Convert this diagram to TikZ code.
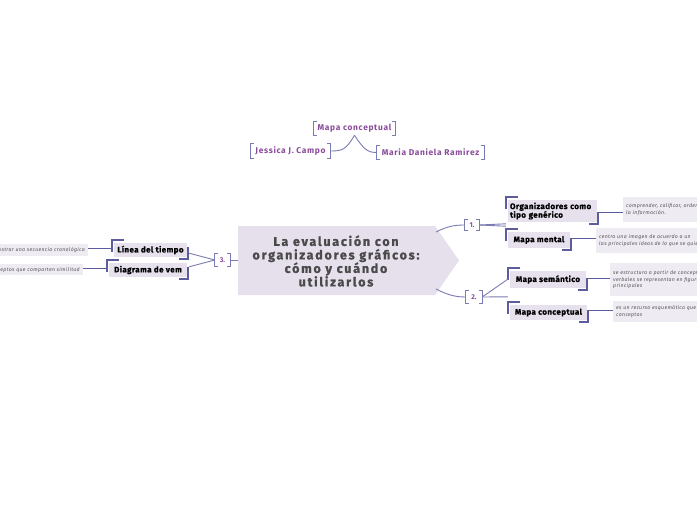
\documentclass[tikz,border=0pt]{standalone}
\usepackage{fontspec}
\setmainfont{Fira Sans}
\newfontfamily\cenfont[LetterSpace=14,BoldFeatures={FakeBold=1.3}]{Fira Sans}
\newfontfamily\labfont[LetterSpace=5,BoldFeatures={FakeBold=1}]{Fira Sans}
\newfontfamily\perfont[LetterSpace=8]{Fira Sans}
\newfontfamily\notefont[LetterSpace=6]{Fira Sans}
\definecolor{brk}{HTML}{5D5D9E}
\definecolor{lnk}{HTML}{7B7BB3}
\definecolor{boxf}{HTML}{E7E1EE}
\definecolor{notef}{HTML}{EFEBF3}
\definecolor{cenf}{HTML}{E6DFEC}
\definecolor{cent}{HTML}{4A4A4A}
\definecolor{purp}{HTML}{8A4B9B}
\definecolor{notet}{HTML}{555555}
\newcommand{\boxbr}[1]{%
  \draw[bk] ([shift={(-1.5,9)}]#1.north west) |- ([shift={(10,-2.5)}]#1.north west);
  \draw[bk] ([shift={(-8,2)}]#1.south east) -| ([shift={(1,-10)}]#1.south east);}
\newcommand{\sqbr}[1]{%
  \draw[sq] ([xshift=3pt]#1.north west) -- (#1.north west) -- (#1.south west) -- ([xshift=3pt]#1.south west);
  \draw[sq] ([xshift=-3pt]#1.north east) -- (#1.north east) -- (#1.south east) -- ([xshift=-3pt]#1.south east);}
\begin{document}
\begin{tikzpicture}[x=1pt,y=-1pt,
  bk/.style={draw=brk,line width=1.8pt},
  sq/.style={draw=lnk,line width=1pt},
  lk/.style={draw=lnk,line width=0.9pt},
  cl/.style={draw=brk,line width=1pt},
  topic/.style={rectangle,fill=boxf,inner sep=0pt,font=\labfont\bfseries\fontsize{8}{8.6}\selectfont,text=black},
  note/.style={rectangle,fill=notef,inner sep=0pt,font=\notefont\itshape\fontsize{5.2}{10}\selectfont,text=notet,align=left},
  num/.style={rectangle,inner sep=0pt,font=\bfseries\fontsize{7}{8}\selectfont,text=purp},
  person/.style={rectangle,inner sep=0pt,font=\perfont\bfseries\fontsize{8.4}{9}\selectfont,text=purp}]
\useasboundingbox (0,0) rectangle (697,520);
\clip (0,0) rectangle (697,520);
\fill[white] (0,0) rectangle (697,520);
% central
\fill[cenf] (238,226) -- (435,226) -- (459,260.5) -- (435,295) -- (238,295) -- cycle;
\node[font=\cenfont\bfseries\fontsize{12.5}{13.5}\selectfont,text=cent,align=center,inner sep=0pt] (cen) at (336,261)
  {La evaluación con\\organizadores gráficos:\\cómo y cuándo\\utilizarlos};
\coordinate (c1) at (436,232);
\coordinate (c2) at (436,289);
\coordinate (c3) at (238,260);
% top
\node[person,minimum width=81,minimum height=13] (mct) at (354.5,128.5) {Mapa conceptual};
\node[person,minimum width=79,minimum height=14] (jes) at (290.5,151) {Jessica J.\ Campo};
\node[person,minimum width=107,minimum height=13] (mar) at (430.5,152.5) {Maria Daniela Ramirez};
\sqbr{mct}\sqbr{jes}\sqbr{mar}
\draw[lk] (mct.south) .. controls (346,150) and (342,151) .. (jes.east);
\draw[lk] (mct.south) .. controls (364,150) and (368,152.5) .. (mar.west);
% numbered brackets
\node[num,minimum width=14,minimum height=11] (b1) at (472,225) {1.};
\node[num,minimum width=16,minimum height=12] (b2) at (474,297) {2.};
\node[num,minimum width=15,minimum height=12] (b3) at (222.5,260) {3.};
\sqbr{b1}\sqbr{b2}\sqbr{b3}
\draw[lk] (c1) .. controls (448,226) and (455,225) .. (b1.west);
\draw[lk] (c2) .. controls (448,295) and (455,297) .. (b2.west);
\draw[lk] (c3) -- (b3.east);
% topics right
\node[topic,minimum width=89,minimum height=22,text width=85,align=left] (org) at (552.5,211) {Organizadores como\\tipo genérico};
\node[topic,minimum width=62,minimum height=16] (mm) at (539,240) {Mapa mental};
\node[topic,minimum width=76,minimum height=17] (ms) at (548,279.5) {Mapa semántico};
\node[topic,minimum width=77,minimum height=15] (mc) at (548.5,312.5) {Mapa conceptual};
% topics left
\node[topic,minimum width=73,minimum height=14] (lt) at (150.5,250) {Línea del tiempo};
\node[topic,minimum width=78,minimum height=14] (dv) at (148,270) {Diagrama de vem};
\boxbr{org}\boxbr{mm}\boxbr{ms}\boxbr{mc}\boxbr{lt}\boxbr{dv}
\draw[lk] (b1.east) -- ([shift={(-2,4)}]org.south west);
\draw[lk] (b1.east) -- ([shift={(-2,-8)}]mm.north west);
\draw[lk] (b2.east) -- ([shift={(-2,-9)}]ms.south west);
\draw[lk] (b2.east) -- ([shift={(-2,-8)}]mc.north west);
\draw[lk] (b3.west) -- ([shift={(2,-4)}]lt.south east);
\draw[lk] (b3.west) -- ([shift={(2,4)}]dv.north east);
% notes
\node[note,anchor=north west,minimum width=150,minimum height=25,text width=150] (n1) at (623,197)
  {\hspace*{3pt}comprender, calificar, ordenar\\[-3.5pt]\hspace*{3pt}la información.};
\node[note,anchor=north west,minimum width=150,minimum height=25,text width=150] (n2) at (596,228)
  {\hspace*{3pt}centra una imagen de acuerdo a un\\[-3.5pt]\hspace*{3pt}las principales ideas de lo que se quiere};
\node[note,anchor=north west,minimum width=150,minimum height=33,text width=150] (n3) at (610,263)
  {\hspace*{3pt}se estructura a partir de conceptos\\[-3.5pt]\hspace*{3pt}verbales se representan en figuras\\[-3.5pt]\hspace*{3pt}principales};
\node[note,anchor=north west,minimum width=150,minimum height=21,text width=150] (n4) at (613,301)
  {\hspace*{3pt}es un recurso esquemático que\\[-3.5pt]\hspace*{3pt}conceptos};
\node[note,anchor=north east,minimum width=130,minimum height=12,text width=130,align=right] (nl) at (88,244)
  {mostrar una secuencia cronológica\hspace*{3pt}};
\node[note,anchor=north east,minimum width=130,minimum height=11,text width=130,align=right] (nd) at (83,264)
  {conceptos que comparten similitud\hspace*{3pt}};
% topic to note connectors
\coordinate (o1) at ([shift={(1,-10)}]org.south east);
\coordinate (o2) at ([shift={(1,-10)}]mm.south east);
\coordinate (o3) at ([shift={(1,-10)}]ms.south east);
\coordinate (o4) at ([shift={(1,-10)}]mc.south east);
\draw[cl] (o1) -- (o1 -| n1.west);
\draw[cl] (o2) -- (o2 -| n2.west);
\draw[cl] (o3) -- (o3 -| n3.west);
\draw[cl] (o4) -- (o4 -| n4.west);
\coordinate (p1) at ([shift={(-1.5,6)}]lt.north west);
\coordinate (p2) at ([shift={(-1.5,6)}]dv.north west);
\draw[cl] (nl.east |- p1) -- (p1);
\draw[cl] (nd.east |- p2) -- (p2);
\end{tikzpicture}
\end{document}
